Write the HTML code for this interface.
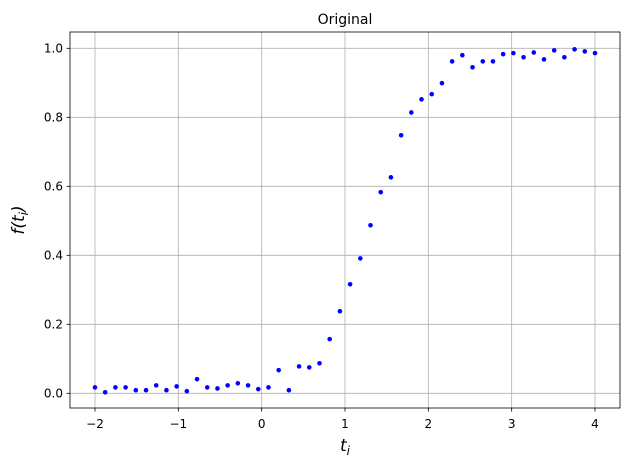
<!DOCTYPE html>
<html><head><meta charset="utf-8"><style>
body{margin:0;background:#fff;width:630px;height:470px;overflow:hidden}
svg{font-family:"DejaVu Sans","Liberation Sans",sans-serif}
</style></head><body>
<svg id="chart" width="630" height="470" xmlns="http://www.w3.org/2000/svg"></svg>
<script>
const yValues=[0.017,0.003,0.017,0.017,0.009,0.009,0.023,0.009,0.020,0.006,0.041,0.017,0.014,0.023,0.029,0.023,0.012,0.017,0.067,0.009,0.078,0.075,0.087,0.157,
0.238,0.316,0.391,0.487,0.583,0.626,0.748,0.814,0.852,0.867,0.899,0.962,0.980,0.945,0.962,0.962,0.983,0.986,0.974,0.988,0.968,0.994,0.974,0.997,0.991,0.986];
const xStart=-2, xEnd=4;
const xTicks=[-2,-1,0,1,2,3,4];
const xTickLabels=["\u22122","\u22121","0","1","2","3","4"];
const yTicks=[0,0.2,0.4,0.6,0.8,1.0];
const yTickLabels=["0.0","0.2","0.4","0.6","0.8","1.0"];
const L=70,R=620,T=32,B=408;
const xs=v=>95+(v+2)*500/6;
const ys=v=>393.3-v*345;
const svg=document.getElementById('chart');
const NS="http://www.w3.org/2000/svg";
function mk(tag,attrs,parent){const e=document.createElementNS(NS,tag);for(const k in attrs)e.setAttribute(k,attrs[k]);(parent||svg).appendChild(e);return e;}
const grid=mk('g',{});


xTicks.forEach((t,i)=>{
 const x=xs(t);
 const g=mk('line',{x1:x,x2:x,y1:T,y2:B,stroke:'#b0b0b0','stroke-width':0.8},grid);
 
 
 const tk=mk('line',{x1:x,x2:x,y1:B,y2:B+3.5,stroke:'#000','stroke-width':0.8});
 
 
 const tl=mk('text',{x:x,y:B+20,'text-anchor':'middle','font-size':12,fill:'#000'});
 tl.textContent=xTickLabels[i];
 
 
});
yTicks.forEach((t,i)=>{
 const y=ys(t);
 const g=mk('line',{x1:L,x2:R,y1:y,y2:y,stroke:'#b0b0b0','stroke-width':0.8},grid);
 
 
 const tk=mk('line',{x1:L-3.5,x2:L,y1:y,y2:y,stroke:'#000','stroke-width':0.8});
 
 
 const tl=mk('text',{x:L-7,y:y+4.3,'text-anchor':'end','font-size':12,fill:'#000'});
 tl.textContent=yTickLabels[i];
 
 
});
const pts=mk('g',{});


const n=yValues.length;
yValues.forEach((v,i)=>{
 const t=xStart+i*(xEnd-xStart)/(n-1);
 const c=mk('circle',{cx:xs(t),cy:ys(v),r:2.3,fill:'#0000ff'},pts);
 
 
});
const fr=mk('rect',{x:L,y:T,width:R-L,height:B-T,fill:'none',stroke:'#000','stroke-width':0.8});


const title=mk('text',{x:(L+R)/2,y:24,'text-anchor':'middle','font-size':14});
title.textContent='Original';


const xl=mk('text',{x:(L+R)/2,y:451,'text-anchor':'middle','font-size':17,'font-style':'italic'});
xl.innerHTML='t<tspan font-size="12" dy="4">i</tspan>';


const yl=mk('text',{x:0,y:0,'text-anchor':'middle','font-size':17,'font-style':'italic',transform:'translate(24,220) rotate(-90)'});
yl.innerHTML='f(t<tspan font-size="12" dy="4">i</tspan><tspan dy="-4">)</tspan>';


</script>
</body></html>
